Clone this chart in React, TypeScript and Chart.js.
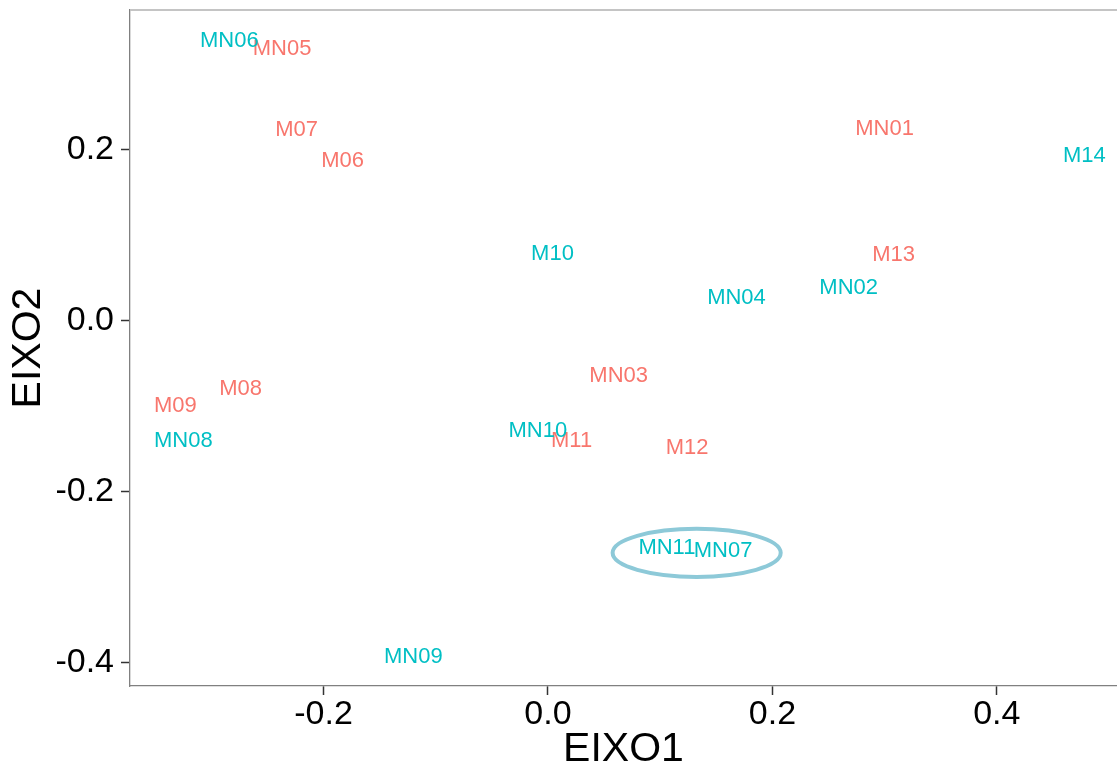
import React, { useEffect, useRef } from 'react';
import { Chart, registerables } from 'chart.js';

Chart.register(...registerables);

// Group shown in red
const redLabels = ['MN05', 'M07', 'M06', 'MN01', 'M13', 'MN03', 'M08', 'M09', 'M11', 'M12'];
const redX = [-0.237, -0.224, -0.183, 0.300, 0.308, 0.063, -0.274, -0.332, 0.021, 0.124];
const redY = [0.318, 0.224, 0.187, 0.225, 0.077, -0.064, -0.080, -0.100, -0.140, -0.149];

// Group shown in teal
const tealLabels = ['MN06', 'M14', 'M10', 'MN02', 'MN04', 'MN08', 'MN10', 'MN11', 'MN07', 'MN09'];
const tealX = [-0.284, 0.478, 0.004, 0.268, 0.168, -0.325, -0.009, 0.106, 0.156, -0.120];
const tealY = [0.328, 0.193, 0.078, 0.038, 0.027, -0.141, -0.129, -0.266, -0.269, -0.393];

const xTicks = [-0.2, 0.0, 0.2, 0.4];
const yTicks = [-0.4, -0.2, 0.0, 0.2];
const xRange = [-0.3725, 0.5071];
const yRange = [-0.4273, 0.3638];

// highlighted cluster (ellipse) in data units
const highlightCenter = [0.1325, -0.2715];
const highlightRadii = [0.0749, 0.0281];

const RED = '#F8766D';
const TEAL = '#00BFC4';
const FONT = '"Liberation Sans", Arial, Helvetica, sans-serif';

const labelPlugin = {
  id: 'pointLabels',
  afterDatasetsDraw(chart: any) {
    const ctx = chart.ctx;
    ctx.save();
    ctx.font = `22px ${FONT}`;
    ctx.textAlign = 'center';
    ctx.textBaseline = 'middle';
    chart.data.datasets.forEach((ds: any, i: number) => {
      const meta = chart.getDatasetMeta(i);
      ctx.fillStyle = ds.textColor;
      meta.data.forEach((el: any, j: number) => {
        ctx.fillText(ds.pointLabels[j], el.x, el.y);
      });
    });
    const xs = chart.scales.x;
    const ys = chart.scales.y;
    const cx = xs.getPixelForValue(highlightCenter[0]);
    const cy = ys.getPixelForValue(highlightCenter[1]);
    const rx = Math.abs(xs.getPixelForValue(highlightCenter[0] + highlightRadii[0]) - cx);
    const ry = Math.abs(ys.getPixelForValue(highlightCenter[1] + highlightRadii[1]) - cy);
    ctx.beginPath();
    ctx.ellipse(cx, cy, rx, ry, 0, 0, Math.PI * 2);
    ctx.strokeStyle = '#8DC9D8';
    ctx.lineWidth = 4;
    ctx.stroke();
    ctx.restore();
  },
  afterDraw(chart: any) {
    const { ctx, chartArea } = chart;
    ctx.save();
    ctx.strokeStyle = '#C4C4C4';
    ctx.lineWidth = 2;
    ctx.beginPath();
    ctx.moveTo(chartArea.left, chartArea.top);
    ctx.lineTo(chartArea.right, chartArea.top);
    ctx.stroke();
    ctx.restore();
  },
};

export default function App() {
  const canvasRef = useRef<HTMLCanvasElement | null>(null);

  useEffect(() => {
    document.body.style.margin = '0';
    const canvas = canvasRef.current;
    if (!canvas) return;
    const chart = new Chart(canvas, {
      type: 'scatter',
      data: {
        datasets: [
          {
            label: 'red',
            data: redX.map((x, i) => ({ x, y: redY[i] })),
            pointRadius: 0,
            pointHoverRadius: 0,
            textColor: RED,
            pointLabels: redLabels,
          } as any,
          {
            label: 'teal',
            data: tealX.map((x, i) => ({ x, y: tealY[i] })),
            pointRadius: 0,
            pointHoverRadius: 0,
            textColor: TEAL,
            pointLabels: tealLabels,
          } as any,
        ],
      },
      options: {
        animation: false,
        responsive: false,
        events: [],
        layout: { padding: { top: 10, right: 0, bottom: 0, left: 0 } },
        plugins: {
          legend: { display: false },
          tooltip: { enabled: false },
        },
        scales: {
          x: {
            type: 'linear',
            min: xRange[0],
            max: xRange[1],
            afterBuildTicks: (s: any) => {
              s.ticks = xTicks.map((v) => ({ value: v }));
            },
            afterFit: (s: any) => {
              s.height = 83;
              s.paddingLeft = 0;
              s.paddingRight = 0;
            },
            ticks: {
              color: '#000',
              padding: 3,
              font: { size: 34, family: FONT, lineHeight: 1 },
              callback: (v: any) => Number(v).toFixed(1),
            },
            grid: {
              drawOnChartArea: false,
              drawTicks: true,
              tickLength: 9,
              tickColor: '#333',
              tickWidth: 1.5,
            },
            border: { display: true, color: '#808080', width: 1.3 },
            title: {
              display: true,
              text: 'EIXO1',
              color: '#000',
              font: { size: 41, family: FONT, lineHeight: 1 },
              padding: { top: 0, bottom: -1 },
            },
          },
          y: {
            type: 'linear',
            min: yRange[0],
            max: yRange[1],
            afterBuildTicks: (s: any) => {
              s.ticks = yTicks.map((v) => ({ value: v }));
            },
            afterFit: (s: any) => {
              s.width = 130;
              s.paddingTop = 0;
              s.paddingBottom = 0;
            },
            ticks: {
              color: '#000',
              padding: 7,
              font: { size: 34, family: FONT, lineHeight: 1 },
              callback: (v: any) => Number(v).toFixed(1),
            },
            grid: {
              drawOnChartArea: false,
              drawTicks: true,
              tickLength: 9,
              tickColor: '#333',
              tickWidth: 1.5,
            },
            border: { display: true, color: '#808080', width: 1.3 },
            title: {
              display: true,
              text: 'EIXO2',
              color: '#000',
              font: { size: 41, family: FONT, lineHeight: 1 },
              padding: { top: 8.5, bottom: 0 },
            },
          },
        },
      },
      plugins: [labelPlugin],
    });
    return () => chart.destroy();
  }, []);

  return (
    <div style={{ width: 1117, height: 769, overflow: 'hidden', background: '#fff' }}>
      <canvas ref={canvasRef} width={1117} height={769} style={{ display: 'block' }} />
    </div>
  );
}
